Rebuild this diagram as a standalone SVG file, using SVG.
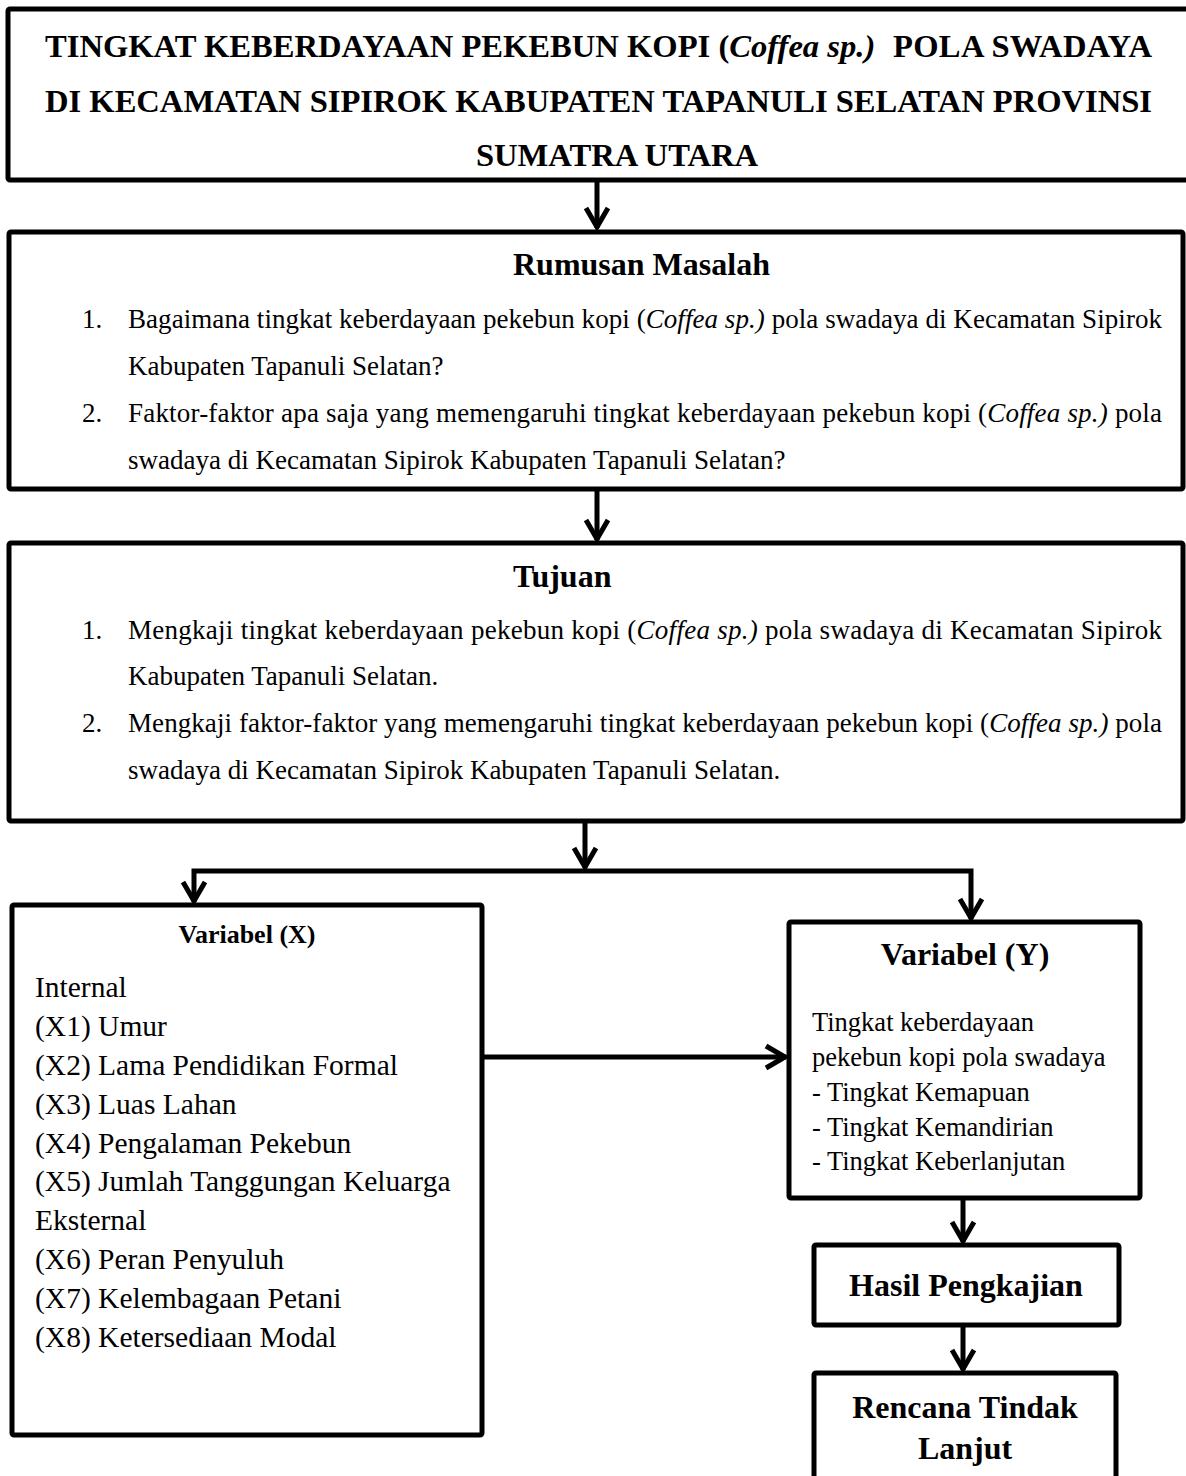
<svg xmlns="http://www.w3.org/2000/svg" width="1186" height="1476" viewBox="0 0 1186 1476">
<style>
.box{fill:#fff;stroke:#000;stroke-width:5}
.con{fill:none;stroke:#000;stroke-width:5}
text{font-family:"Liberation Serif","Times New Roman",serif;fill:#000}
.t{font-size:32.6px;font-weight:bold}
.h{font-size:32px;font-weight:bold}
.b{font-size:27px}
.x{font-size:29.5px}
.y{font-size:26.5px}
.i{font-style:italic}
</style>
<defs>
<marker id="arr" markerUnits="userSpaceOnUse" markerWidth="30" markerHeight="30" viewBox="0 0 30 30" refX="24" refY="15" orient="auto">
<path d="M4,4 L23,15 L4,26" fill="none" stroke="#000" stroke-width="5" stroke-linejoin="miter"/>
</marker>
</defs>
<rect width="1186" height="1476" fill="#fff"/>
<g id="connectors">
<path class="con" d="M597,182 V228" marker-end="url(#arr)"/>
<path class="con" d="M597,491 V540" marker-end="url(#arr)"/>
<path class="con" d="M585,823 V868" marker-end="url(#arr)"/>
<path class="con" d="M585,871 H194 V902" marker-end="url(#arr)"/>
<path class="con" d="M585,871 H971 V919" marker-end="url(#arr)"/>
<path class="con" d="M484,1057 H786" marker-end="url(#arr)"/>
<path class="con" d="M963,1200 V1242" marker-end="url(#arr)"/>
<path class="con" d="M963,1327 V1370" marker-end="url(#arr)"/>
</g>
<g id="title">
<rect class="box" x="8" y="9" width="1195" height="171" rx="2"/>
<text class="t" x="45" y="57">TINGKAT KEBERDAYAAN PEKEBUN KOPI (<tspan class="i">Coffea sp.)</tspan></text>
<text class="t" x="893" y="57" textLength="259" lengthAdjust="spacing">POLA SWADAYA</text>
<text class="t" x="45" y="112" textLength="1107" lengthAdjust="spacing">DI KECAMATAN SIPIROK KABUPATEN TAPANULI SELATAN PROVINSI</text>
<text class="t" x="617" y="166" text-anchor="middle">SUMATRA UTARA</text>
</g>
<g id="rumusan">
<rect class="box" x="9" y="232" width="1174" height="257" rx="2"/>
<text class="h" x="513" y="275">Rumusan Masalah</text>
<text class="b" x="82" y="328">1.</text>
<text class="b" x="128" y="328" textLength="1034" lengthAdjust="spacing">Bagaimana tingkat keberdayaan pekebun kopi (<tspan class="i">Coffea sp.)</tspan> pola swadaya di Kecamatan Sipirok</text>
<text class="b" x="128" y="375">Kabupaten Tapanuli Selatan?</text>
<text class="b" x="82" y="422">2.</text>
<text class="b" x="128" y="422" textLength="1034" lengthAdjust="spacing">Faktor-faktor apa saja yang memengaruhi tingkat keberdayaan pekebun kopi (<tspan class="i">Coffea sp.)</tspan> pola</text>
<text class="b" x="128" y="469">swadaya di Kecamatan Sipirok Kabupaten Tapanuli Selatan?</text>
</g>
<g id="tujuan">
<rect class="box" x="9" y="543" width="1174" height="278" rx="2"/>
<text class="h" x="513" y="587">Tujuan</text>
<text class="b" x="82" y="639">1.</text>
<text class="b" x="128" y="639" textLength="1034" lengthAdjust="spacing">Mengkaji tingkat keberdayaan pekebun kopi (<tspan class="i">Coffea sp.)</tspan> pola swadaya di Kecamatan Sipirok</text>
<text class="b" x="128" y="685">Kabupaten Tapanuli Selatan.</text>
<text class="b" x="82" y="732">2.</text>
<text class="b" x="128" y="732" textLength="1034" lengthAdjust="spacing">Mengkaji faktor-faktor yang memengaruhi tingkat keberdayaan pekebun kopi (<tspan class="i">Coffea sp.)</tspan> pola</text>
<text class="b" x="128" y="779">swadaya di Kecamatan Sipirok Kabupaten Tapanuli Selatan.</text>
</g>
<g id="variabel-x">
<rect class="box" x="12" y="905" width="470" height="530" rx="2"/>
<text x="247" y="943" text-anchor="middle" style="font-size:26px;font-weight:bold">Variabel (X)</text>
<text class="x" x="35" y="997">Internal</text>
<text class="x" x="35" y="1036">(X1) Umur</text>
<text class="x" x="35" y="1075">(X2) Lama Pendidikan Formal</text>
<text class="x" x="35" y="1114">(X3) Luas Lahan</text>
<text class="x" x="35" y="1153">(X4) Pengalaman Pekebun</text>
<text class="x" x="35" y="1191">(X5) Jumlah Tanggungan Keluarga</text>
<text class="x" x="35" y="1230">Eksternal</text>
<text class="x" x="35" y="1269">(X6) Peran Penyuluh</text>
<text class="x" x="35" y="1308">(X7) Kelembagaan Petani</text>
<text class="x" x="35" y="1347">(X8) Ketersediaan Modal</text>
</g>
<g id="variabel-y">
<rect class="box" x="789" y="922" width="351" height="276" rx="2"/>
<text class="h" x="965" y="965" text-anchor="middle">Variabel (Y)</text>
<text class="y" x="812" y="1031">Tingkat keberdayaan</text>
<text class="y" x="812" y="1066">pekebun kopi pola swadaya</text>
<text class="y" x="812" y="1101">- Tingkat Kemapuan</text>
<text class="y" x="812" y="1136">- Tingkat Kemandirian</text>
<text class="y" x="812" y="1170">- Tingkat Keberlanjutan</text>
</g>
<g id="hasil">
<rect class="box" x="814" y="1245" width="305" height="80" rx="2"/>
<text class="h" x="966" y="1296" text-anchor="middle">Hasil Pengkajian</text>
</g>
<g id="rencana">
<rect class="box" x="814" y="1373" width="302" height="130" rx="2"/>
<text class="h" x="965" y="1418" text-anchor="middle">Rencana Tindak</text>
<text class="h" x="965" y="1459" text-anchor="middle">Lanjut</text>
</g>
</svg>
